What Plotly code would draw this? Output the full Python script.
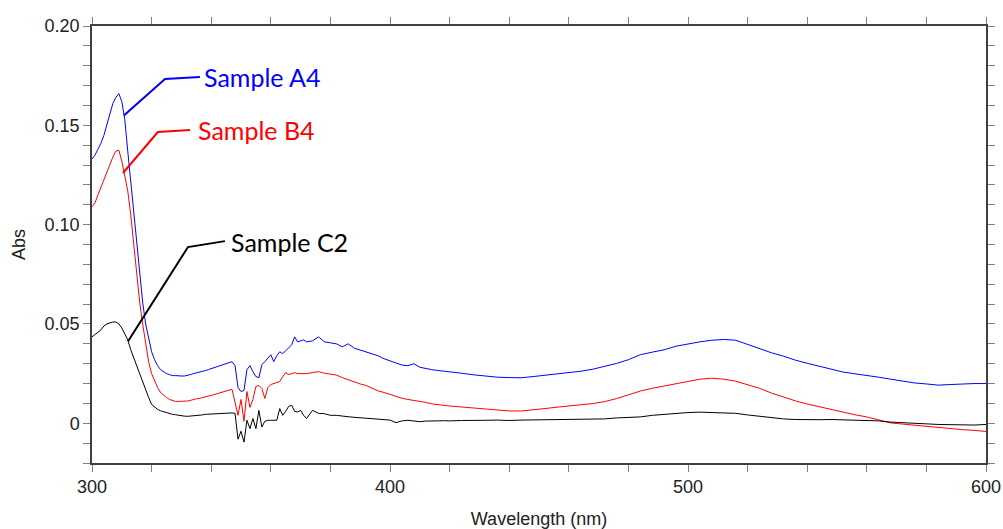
import plotly.graph_objects as go

# ---- data ----
wavelength = [
    300, 301, 302, 303, 304, 305, 306, 307, 308, 309,
    310, 311, 312, 313, 314, 315, 316, 317, 318, 319,
    320, 321, 322, 323, 324, 325, 326, 327, 328, 329,
    330, 331, 332, 333, 334, 335, 336, 337, 338, 339,
    340, 341, 342, 343, 344, 345, 346, 347, 348, 349,
    350, 351, 352, 353, 354, 355, 356, 357, 358, 359,
    360, 361, 362, 363, 364, 365, 366, 367, 368, 369,
    370, 371, 372,
    374, 376, 378, 380, 382, 384, 386, 388, 390, 392,
    394, 396, 398, 400, 402, 404, 406, 408, 410, 412,
    414, 416, 418, 420,
    424, 428, 432, 436, 440, 444, 448, 452, 456, 460,
    464, 468, 472, 476, 480, 484, 488, 492, 496, 500,
    504, 508, 512, 516, 520, 524, 528, 532, 536, 540,
    544, 548, 552, 556, 560, 564, 568, 572, 576, 580,
    584, 588, 592, 596, 600,
]

sample_a4 = [
    0.133, 0.135, 0.138, 0.141, 0.145, 0.150, 0.156, 0.161, 0.164, 0.166,
    0.162, 0.153, 0.137, 0.121, 0.106, 0.090, 0.075, 0.061, 0.050, 0.042,
    0.036, 0.032, 0.029, 0.027, 0.026, 0.025, 0.0245, 0.024, 0.024, 0.0238,
    0.0238, 0.0238, 0.024, 0.0245, 0.025, 0.0253, 0.0258, 0.026, 0.0265, 0.027,
    0.0275, 0.028, 0.0285, 0.029, 0.0295, 0.030, 0.0305, 0.031, 0.029, 0.018,
    0.016, 0.0165, 0.027, 0.029, 0.026, 0.0235, 0.023, 0.0295, 0.031, 0.033,
    0.0345, 0.031, 0.034, 0.036, 0.035, 0.0365, 0.038, 0.0395, 0.0435, 0.041,
    0.0415, 0.042, 0.041,
    0.0415, 0.0435, 0.041, 0.0405, 0.040, 0.0385, 0.040, 0.0378, 0.0368, 0.036,
    0.0352, 0.034, 0.0325, 0.0315, 0.0305, 0.0293, 0.029, 0.030, 0.0282, 0.0275,
    0.027, 0.0266, 0.0263, 0.026,
    0.0252, 0.0244, 0.0238, 0.0232, 0.023, 0.0229, 0.0235, 0.0242, 0.0248, 0.0253,
    0.0262, 0.0272, 0.0285, 0.0301, 0.032, 0.0345, 0.0358, 0.037, 0.0388, 0.040,
    0.041, 0.0418, 0.0422, 0.0418, 0.0397, 0.0378, 0.0355, 0.0338, 0.0318, 0.0302,
    0.0287, 0.0270, 0.0258, 0.0249, 0.0242, 0.0232, 0.0222, 0.0212, 0.0203, 0.0198,
    0.0192, 0.0195, 0.0198, 0.020, 0.020,
]

sample_b4 = [
    0.109, 0.111, 0.115, 0.119, 0.123, 0.127, 0.131, 0.134, 0.137, 0.1375,
    0.132, 0.125, 0.117, 0.105, 0.090, 0.075, 0.061, 0.050, 0.040, 0.031,
    0.025, 0.021, 0.018, 0.0155, 0.014, 0.013, 0.012, 0.0115, 0.011, 0.011,
    0.011, 0.011, 0.0112, 0.0115, 0.012, 0.0123, 0.0125, 0.013, 0.0133, 0.0137,
    0.014, 0.0145, 0.015, 0.0155, 0.016, 0.0163, 0.0167, 0.017, 0.010, 0.004,
    0.012, 0.001, 0.016, 0.008, 0.012, 0.0185, 0.019, 0.0175, 0.0125, 0.018,
    0.0195, 0.020, 0.0205, 0.021, 0.0235, 0.0255, 0.0245, 0.025, 0.0255, 0.025,
    0.025, 0.0252, 0.025,
    0.0255, 0.026, 0.0252, 0.0247, 0.0243, 0.023, 0.0218, 0.0208, 0.0198, 0.019,
    0.0175, 0.0163, 0.0155, 0.0145, 0.0133, 0.0126, 0.012, 0.0116, 0.0112, 0.0105,
    0.0098, 0.0093, 0.009, 0.0087,
    0.0082, 0.0075, 0.0069, 0.0064, 0.0062, 0.0062, 0.0067, 0.0074, 0.0081, 0.0086,
    0.0092, 0.0099, 0.0109, 0.0124, 0.0143, 0.0162, 0.0176, 0.0188, 0.0200, 0.0212,
    0.0222, 0.0227, 0.0222, 0.0212, 0.0195, 0.0176, 0.0152, 0.0132, 0.0113, 0.0097,
    0.0083, 0.0068, 0.0055, 0.0043, 0.0032, 0.0018, 0.0002, -0.0004, -0.001, -0.0015,
    -0.002, -0.0026, -0.0032, -0.0036, -0.0041,
]

sample_c2 = [
    0.0435, 0.0445, 0.0458, 0.047, 0.049, 0.050, 0.0505, 0.051, 0.051, 0.050,
    0.048, 0.045, 0.042, 0.037, 0.033, 0.029, 0.024, 0.020, 0.016, 0.013,
    0.0095, 0.008, 0.007, 0.0063, 0.0058, 0.0052, 0.0048, 0.0045, 0.0043, 0.004,
    0.0038, 0.0036, 0.0035, 0.0036, 0.004, 0.0041, 0.0042, 0.0042, 0.0045, 0.0046,
    0.0048, 0.0049, 0.005, 0.005, 0.0051, 0.0051, 0.0052, 0.0052, 0.005, -0.008,
    -0.004, -0.0095, 0.0015, -0.0027, 0.0024, -0.0027, 0.0065, -0.0019, 0.001, 0.0015,
    0.0015, 0.0015, 0.0015, 0.0074, 0.004, 0.006, 0.0085, 0.0091, 0.006, 0.0057,
    0.0065, 0.004, 0.0024,
    0.0065, 0.005, 0.0048, 0.004, 0.004, 0.0038, 0.0033, 0.003, 0.0028, 0.0026,
    0.0024, 0.0022, 0.002, 0.0016, 0.0003, 0.0012, 0.0015, 0.0012, 0.0008, 0.0011,
    0.001, 0.0012, 0.0013, 0.0012,
    0.0014, 0.0013, 0.0015, 0.0016, 0.0014, 0.0016, 0.0017, 0.0018, 0.0019, 0.0019,
    0.0021, 0.0021, 0.0022, 0.0027, 0.003, 0.0032, 0.004, 0.0045, 0.005, 0.0054,
    0.0056, 0.0055, 0.0054, 0.005, 0.0042, 0.0035, 0.0028, 0.0022, 0.0019, 0.0017,
    0.0018, 0.0019, 0.0018, 0.0017, 0.0015, 0.0012, 0.0006, 0.0002, 0.0, -0.0003,
    -0.0006, -0.0008, -0.001, -0.0009, -0.0006,
]

series_names = ["Sample A4", "Sample B4", "Sample C2"]
series_values = [sample_a4, sample_b4, sample_c2]
series_colors = ["#0000ff", "#ff0000", "#000000"]

x_tick_vals = [300, 320, 340, 360, 380, 400, 420, 440, 460, 480, 500,
               520, 540, 560, 580, 600]
x_tick_text = ["300", "", "", "", "", "400", "", "", "", "", "500",
               "", "", "", "", "600"]
y_tick_vals = [-0.02, -0.01, 0.0, 0.01, 0.02, 0.03, 0.04, 0.05, 0.06, 0.07,
               0.08, 0.09, 0.10, 0.11, 0.12, 0.13, 0.14, 0.15, 0.16, 0.17,
               0.18, 0.19, 0.20]
y_tick_text = ["", "", "0", "", "", "", "", "0.05", "", "", "", "", "0.10",
               "", "", "", "", "0.15", "", "", "", "", "0.20"]

# label placement: (text x, text y, leader-line points)
label_specs = [
    (336.8, 0.1743, [(310.7, 0.155), (324.5, 0.1733), (336.2, 0.1743)]),
    (334.8, 0.1476, [(310.4, 0.126), (322.1, 0.1466), (332.9, 0.1476)]),
    (346.0, 0.0912, [(312.1, 0.0413), (332.2, 0.0887), (344.6, 0.0917)]),
]

fig = go.Figure()
for name, vals, col in zip(series_names, series_values, series_colors):
    fig.add_trace(go.Scatter(x=wavelength, y=vals, mode="lines", name=name,
                             line=dict(color=col, width=1), showlegend=False))

shapes = []
annotations = []
for (tx, ty, pts), name, col in zip(label_specs, series_names, series_colors):
    path = "M " + " L ".join(f"{px},{py}" for px, py in pts)
    shapes.append(dict(type="path", path=path, xref="x", yref="y",
                       line=dict(color=col, width=2)))
    annotations.append(dict(x=tx, y=ty, xref="x", yref="y", text=name,
                            showarrow=False, xanchor="left", yanchor="middle",
                            font=dict(family="Lato", size=25, color=col)))

tick_font = dict(family="Liberation Sans, Arial, sans-serif", size=18, color="#222222")
axis_common = dict(showline=True, linecolor="#404040", linewidth=1.5,
                   mirror="allticks", ticks="outside", ticklen=7, tickwidth=1,
                   tickcolor="#808080", showgrid=False, zeroline=False,
                   tickfont=tick_font, automargin=False)

fig.update_layout(
    width=1003, height=529,
    margin=dict(l=92, r=17, t=26, b=66),
    plot_bgcolor="white", paper_bgcolor="white",
    shapes=shapes, annotations=annotations,
    xaxis=dict(range=[300, 600], tickmode="array", tickvals=x_tick_vals,
               ticktext=x_tick_text,
               title=dict(text="Wavelength (nm)", font=tick_font, standoff=20),
               **axis_common),
    yaxis=dict(range=[-0.02, 0.20], tickmode="array", tickvals=y_tick_vals,
               ticktext=y_tick_text,
               title=dict(text="Abs", font=tick_font, standoff=14),
               **axis_common),
)

fig.write_html("out.html")
